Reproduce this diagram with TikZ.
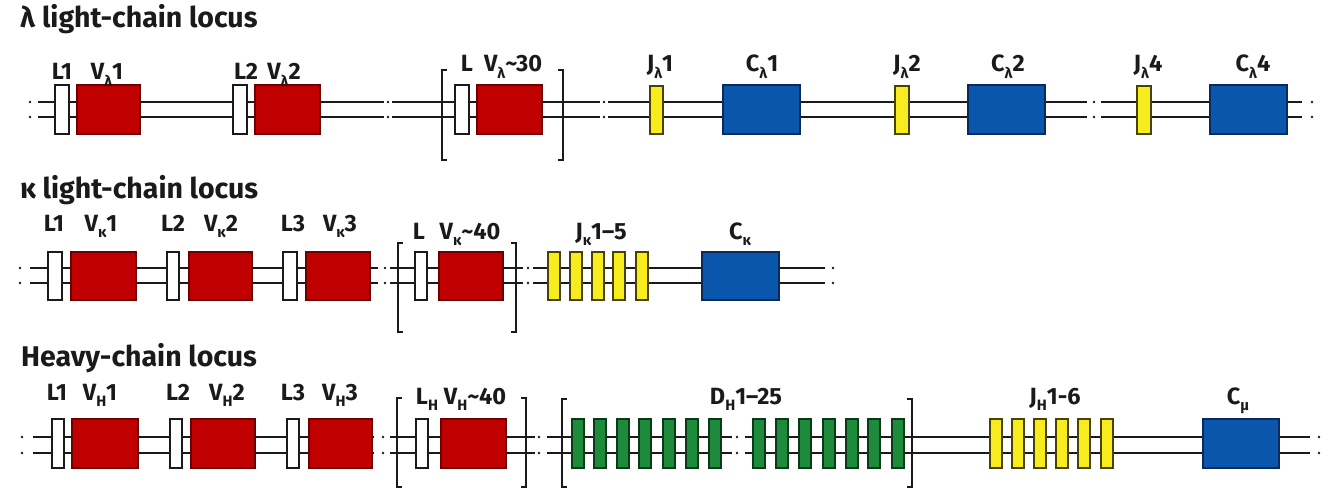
\documentclass[tikz,border=0pt]{standalone}
\usepackage{fontspec}
\setmainfont{Fira Sans}
\newcommand\sbx[1]{\raisebox{-0.28em}{\fontsize{15}{15}\selectfont #1}}
\definecolor{vred}{HTML}{C00000}
\definecolor{vredb}{HTML}{6A0000}
\definecolor{cblue}{HTML}{0A56AC}
\definecolor{cblueb}{HTML}{0B2A5C}
\definecolor{jyel}{HTML}{F6EC1E}
\definecolor{jyelb}{HTML}{4A4200}
\definecolor{dgrn}{HTML}{1E8A3C}
\definecolor{dgrnb}{HTML}{0B3A18}
\definecolor{ink}{HTML}{1A1A1A}
\tikzset{
  strand/.style={draw=ink, line width=2.5pt},
  brk/.style={draw=ink, line width=2pt},
  lbox/.style={draw=ink, fill=white, line width=1.4pt},
  vbox/.style={draw=vredb, fill=vred, line width=1.4pt},
  cbox/.style={draw=cblueb, fill=cblue, line width=1.4pt},
  jbox/.style={draw=jyelb, fill=jyel, line width=1.4pt},
  dbox/.style={draw=dgrnb, fill=dgrn, line width=1.4pt},
  ttl/.style={font=\fontsize{28.5}{30}\selectfont\bfseries, anchor=base west, inner sep=0pt, text=ink},
  lbl/.style={font=\fontsize{23.5}{24}\selectfont\bfseries, anchor=base, inner sep=0pt, text=ink},
  dotm/.style={fill=ink}
}
\begin{document}
\begin{tikzpicture}[x=1pt,y=-1pt]
\useasboundingbox[fill=white] (0,0) rectangle (1327,489);

% ================= lambda row =================
\node[ttl] (t1) at (20,28) {λ light-chain locus};
\foreach \s/\e in {38/384, 392/600, 608/1087, 1101/1302} {
  \draw[strand] (\s,102) -- (\e,102);
  \draw[strand] (\s,117) -- (\e,117);
}
\foreach \x in {30,388,604,1094,1312} {
  \fill[dotm] (\x,102) circle (1.3);
  \fill[dotm] (\x,117) circle (1.3);
}
\draw[brk] (447,70) -- (442,70) -- (442,160) -- (447,160);
\draw[brk] (558,70) -- (563,70) -- (563,160) -- (558,160);
\draw[lbox] (55,85) rectangle (69,134);
\draw[vbox] (77,85) rectangle (140,134);
\draw[lbox] (233,85) rectangle (247,134);
\draw[vbox] (255,85) rectangle (320,134);
\draw[lbox] (455,85) rectangle (469,134);
\draw[vbox] (477,85) rectangle (542,134);
\draw[jbox] (650,86) rectangle (663,134);
\draw[cbox] (723,85) rectangle (800,134);
\draw[jbox] (895,86) rectangle (909,134);
\draw[cbox] (968,85) rectangle (1045,134);
\draw[jbox] (1137,86) rectangle (1151,134);
\draw[cbox] (1210,85) rectangle (1287,134);
\node[lbl] (a1) at (62,80) {L1};
\node[lbl] (a2) at (107,80) {V\sbx{λ}1};
\node[lbl] (a3) at (246,80) {L2};
\node[lbl] (a4) at (284,80) {V\sbx{λ}2};
\node[lbl] (a5) at (467,72) {L};
\node[lbl] (a6) at (513,72) {V\sbx{λ}\textasciitilde30};
\node[lbl] (a7) at (660,72) {J\sbx{λ}1};
\node[lbl] (a8) at (762,72) {C\sbx{λ}1};
\node[lbl] (a9) at (907,72) {J\sbx{λ}2};
\node[lbl] (a10) at (1008,72) {C\sbx{λ}2};
\node[lbl] (a11) at (1148,72) {J\sbx{λ}4};
\node[lbl] (a12) at (1253,72) {C\sbx{λ}4};

% ================= kappa row =================
\node[ttl] (t2) at (20,198) {κ light-chain locus};
\foreach \s/\e in {30/378, 390/523, 533/825} {
  \draw[strand] (\s,268) -- (\e,268);
  \draw[strand] (\s,283) -- (\e,283);
}
\foreach \x in {20,385,528,833} {
  \fill[dotm] (\x,268) circle (1.3);
  \fill[dotm] (\x,283) circle (1.3);
}
\draw[brk] (403,243) -- (398,243) -- (398,332) -- (403,332);
\draw[brk] (511,243) -- (516,243) -- (516,332) -- (511,332);
\draw[lbox] (48,252) rectangle (62,300);
\draw[vbox] (71,252) rectangle (136,300);
\draw[lbox] (167,252) rectangle (179,300);
\draw[vbox] (189,252) rectangle (252,300);
\draw[lbox] (283,252) rectangle (297,300);
\draw[vbox] (306,252) rectangle (370,300);
\draw[lbox] (415,252) rectangle (427,300);
\draw[vbox] (439,252) rectangle (503,300);
\foreach \x in {548,570,592,613,636} {
  \draw[jbox] (\x,252) rectangle (\x+12,300);
}
\draw[cbox] (702,252) rectangle (779,300);
\node[lbl] (b1) at (54,231) {L1};
\node[lbl] (b2) at (101,231) {V\sbx{κ}1};
\node[lbl] (b3) at (173,231) {L2};
\node[lbl] (b4) at (221,231) {V\sbx{κ}2};
\node[lbl] (b5) at (293,231) {L3};
\node[lbl] (b6) at (340,231) {V\sbx{κ}3};
\node[lbl] (b7) at (419,239) {L};
\node[lbl] (b8) at (470,239) {V\sbx{κ}\textasciitilde40};
\node[lbl] (b9) at (601,239) {J\sbx{κ}1–5};
\node[lbl] (b10) at (740,239) {C\sbx{κ}};

% ================= heavy row =================
\node[ttl] (t3) at (21,366) {Heavy-chain locus};
\foreach \s/\e in {33/374, 390/535, 547/732, 745/1310} {
  \draw[strand] (\s,437) -- (\e,437);
  \draw[strand] (\s,453) -- (\e,453);
}
\foreach \x in {22,383,539,737,1319} {
  \fill[dotm] (\x,437) circle (1.3);
  \fill[dotm] (\x,453) circle (1.3);
}
\draw[brk] (402,398) -- (397,398) -- (397,487) -- (402,487);
\draw[brk] (521,398) -- (526,398) -- (526,487) -- (521,487);
\draw[brk] (567,399) -- (562,399) -- (562,487) -- (567,487);
\draw[brk] (907,399) -- (912,399) -- (912,487) -- (907,487);
\draw[lbox] (52,419) rectangle (64,468);
\draw[vbox] (72,419) rectangle (138,468);
\draw[lbox] (170,419) rectangle (182,468);
\draw[vbox] (191,419) rectangle (255,468);
\draw[lbox] (287,419) rectangle (299,468);
\draw[vbox] (309,419) rectangle (372,468);
\draw[lbox] (416,419) rectangle (428,468);
\draw[vbox] (441,419) rectangle (506,468);
\foreach \x in {572,594,617,639,663,686,709,753,776,799,823,846,868,892} {
  \draw[dbox] (\x,419) rectangle (\x+12,468);
}
\foreach \x in {990,1012,1034,1056,1078,1101} {
  \draw[jbox] (\x,419) rectangle (\x+12,468);
}
\draw[cbox] (1203,419) rectangle (1279,468);
\node[lbl] (c1) at (57,400) {L1};
\node[lbl] (c2) at (100,400) {V\sbx{H}1};
\node[lbl] (c3) at (178,400) {L2};
\node[lbl] (c4) at (227,400) {V\sbx{H}2};
\node[lbl] (c5) at (293,400) {L3};
\node[lbl] (c6) at (340,400) {V\sbx{H}3};
\node[lbl] (c7) at (427,404) {L\sbx{H}};
\node[lbl] (c8) at (475,404) {V\sbx{H}\textasciitilde40};
\node[lbl] (c9) at (746,404) {D\sbx{H}1–25};
\node[lbl] (c10) at (1055,404) {J\sbx{H}1-6};
\node[lbl] (c11) at (1238,404) {C\sbx{μ}};
\end{tikzpicture}
\end{document}
